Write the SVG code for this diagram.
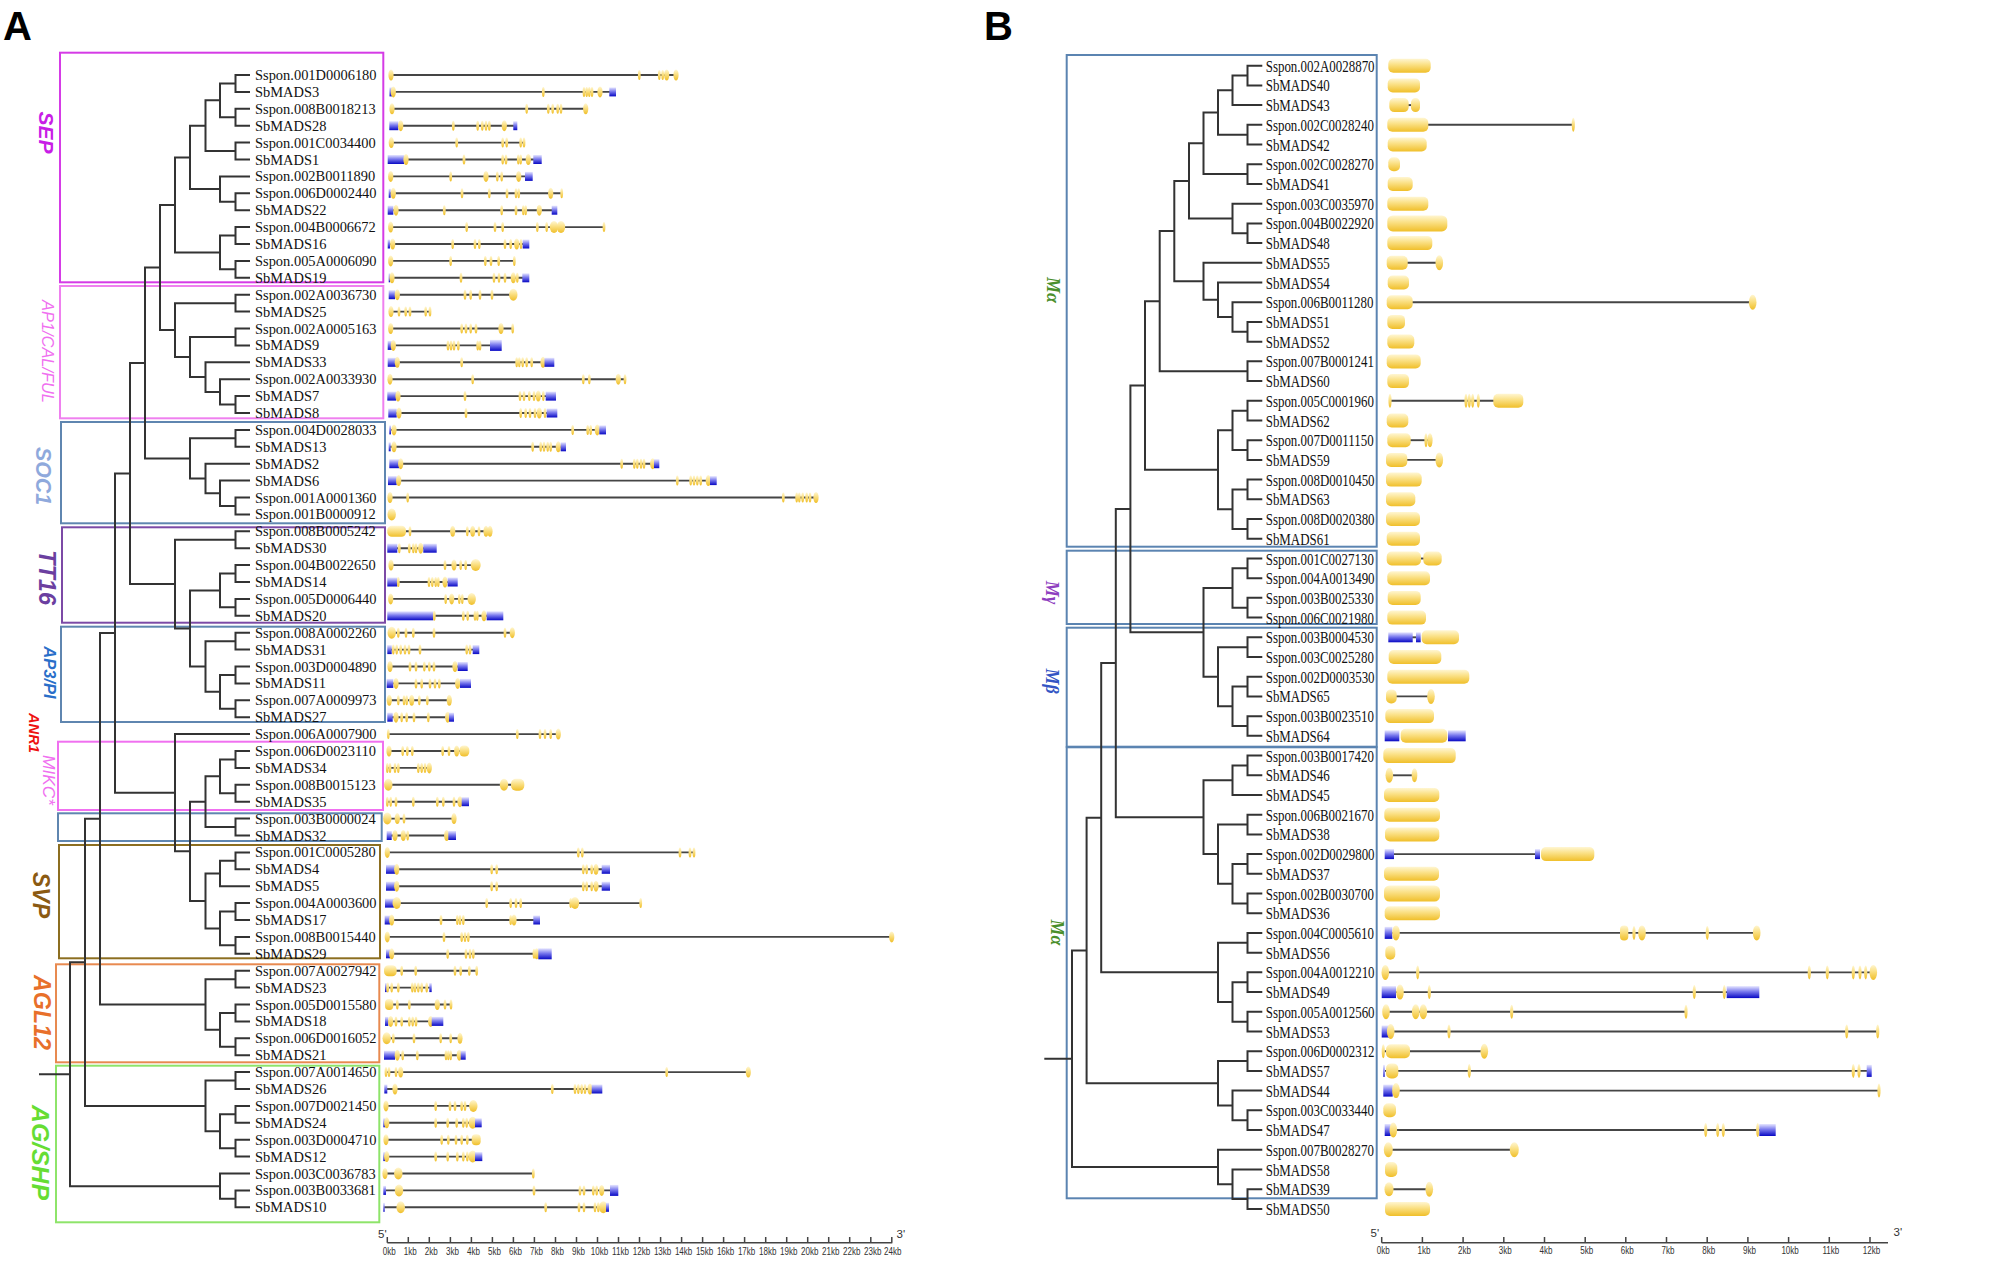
<svg xmlns="http://www.w3.org/2000/svg" xmlns:xlink="http://www.w3.org/1999/xlink" width="1991" height="1262" viewBox="0 0 1991 1262">
<style>
.t{fill:none;stroke:#333;stroke-width:2}
.la{font-family:"Liberation Serif","Times New Roman",serif;font-size:15px;fill:#111}
.lb{font-family:"Liberation Serif","Times New Roman",serif;font-size:17.5px;fill:#111}
.i{stroke:#454545;stroke-width:1.9}
.u{fill:url(#gb)}
.x{fill:url(#gy)}
.bx{fill:none;stroke-width:2}
.gl{font-family:"Liberation Sans",Arial,sans-serif;font-weight:bold;font-style:italic;text-anchor:middle}
.gm{font-family:"Liberation Serif","Times New Roman",serif;font-weight:bold;font-style:italic;font-size:18px;text-anchor:middle}
.ax{stroke:#444;stroke-width:1.5;fill:none}
.tk{font-family:"Liberation Sans",Arial,sans-serif;font-size:11.5px;fill:#333;text-anchor:middle}
.pl{font-family:"Liberation Sans",Arial,sans-serif;font-size:40px;font-weight:bold;fill:#000}
</style>
<defs>
<linearGradient id="gy" x1="0" y1="0" x2="0" y2="1"><stop offset="0" stop-color="#fff6d2"/><stop offset="0.4" stop-color="#fbe28a"/><stop offset="1" stop-color="#f0bf2a"/></linearGradient>
<linearGradient id="gb" x1="0" y1="0" x2="0" y2="1"><stop offset="0" stop-color="#e6e6ff"/><stop offset="0.45" stop-color="#7a7aee"/><stop offset="1" stop-color="#0808c4"/></linearGradient>
<ellipse id="s" rx="1.4" ry="5" fill="url(#gy)"/>
<ellipse id="m" rx="2.6" ry="5.5" fill="url(#gy)"/>
<ellipse id="L" rx="4.2" ry="6" fill="url(#gy)"/>
<ellipse id="p" rx="1.6" ry="7" fill="url(#gy)"/>
<ellipse id="q" rx="3.8" ry="7.5" fill="url(#gy)"/>
</defs>
<rect width="1991" height="1262" fill="#fff"/>
<text class="pl" x="3" y="40">A</text>
<text class="pl" x="984" y="40">B</text>

<g id="clades">
<rect class="bx" x="60" y="52.7" width="323.3" height="229.6" stroke="#d53be6"/>
<rect class="bx" x="60" y="286" width="323.3" height="132.3" stroke="#ef80ef"/>
<rect class="bx" x="61" y="422" width="324" height="101.3" stroke="#5f86b0"/>
<rect class="bx" x="62" y="527.3" width="323" height="95.4" stroke="#7c4aa6"/>
<rect class="bx" x="61" y="626.7" width="324" height="95.3" stroke="#5f86b0"/>
<rect class="bx" x="58" y="741.7" width="325" height="68.3" stroke="#f070f0"/>
<rect class="bx" x="58" y="813.3" width="323.7" height="27.7" stroke="#5f86b0"/>
<rect class="bx" x="59" y="845" width="321" height="113.3" stroke="#8c6e20"/>
<rect class="bx" x="56" y="964.3" width="323.3" height="98" stroke="#e88a50"/>
<rect class="bx" x="56" y="1065.7" width="323.3" height="156.6" stroke="#8ee46a"/>
<rect class="bx" x="1066.7" y="55" width="310" height="491.7" stroke="#5b84b1"/>
<rect class="bx" x="1066.7" y="550.7" width="310" height="73.3" stroke="#5b84b1"/>
<rect class="bx" x="1066.7" y="627.7" width="310" height="119" stroke="#5b84b1"/>
<rect class="bx" x="1066.7" y="747.3" width="310" height="451" stroke="#5b84b1"/>
<text class="gl" font-size="21" fill="#c81ee6" transform="translate(38.5 132.5) rotate(90)">SEP</text>
<text class="gl" font-size="16.4" fill="#f070f0" transform="translate(42 351.5) rotate(90)" style="font-weight:normal">AP1/CAL/FUL</text>
<text class="gl" font-size="21.3" fill="#8fa9dc" transform="translate(36 476) rotate(90)">SOC1</text>
<text class="gl" font-size="23.6" fill="#6b3fa0" transform="translate(39 577.5) rotate(90)">TT16</text>
<text class="gl" font-size="16.5" fill="#2a6fc9" transform="translate(43.5 672.5) rotate(90)">AP3/PI</text>
<text class="gl" font-size="14.7" fill="#ee1111" transform="translate(28.5 733) rotate(90)">ANR1</text>
<text class="gl" font-size="17.3" fill="#f070f0" transform="translate(43 780) rotate(90)" style="font-weight:normal">MIKC*</text>
<text class="gl" font-size="23" fill="#8b5a12" transform="translate(33 895) rotate(90)">SVP</text>
<text class="gl" font-size="23.3" fill="#e8702a" transform="translate(33.5 1012.5) rotate(90)">AGL12</text>
<text class="gl" font-size="24.8" fill="#66dd33" transform="translate(32 1152.5) rotate(90)">AG/SHP</text>
<text class="gm" fill="#4a8f2b" transform="translate(1047 290) rotate(90)">Mα</text>
<text class="gm" fill="#8e3fc0" transform="translate(1046 592.5) rotate(90)">Mγ</text>
<text class="gm" fill="#3355c4" transform="translate(1046 681) rotate(90)">Mβ</text>
<text class="gm" fill="#4a8f2b" transform="translate(1050.5 932.5) rotate(90)">Mα</text>
</g>

<g id="connectors" class="t">
<path d="M250 75H235.5V91.9H250M250 108.8H235.5V125.7H250M235.5 83.45H220V117.25H235.5M250 142.6H235.5V159.5H250M220 100.35H205.5V151.05H235.5M250 193.3H235.5V210.2H250M250 176.4H220V201.75H235.5M205.5 125.7H190V189.08H220M250 227.1H235.5V244H250M250 260.9H235.5V277.8H250M235.5 235.55H220V269.35H235.5M190 157.39H175V252.45H220"/>
<path d="M250 294.7H235.5V311.6H250M250 328.5H235.5V345.4H250M250 396.1H235.5V413H250M250 379.2H220V404.55H235.5M250 362.3H205.5V391.88H220M235.5 336.95H190V377.09H205.5M235.5 303.15H175V357.02H190M175 204.92H160V330.09H175"/>
<path d="M250 429.9H235.5V446.8H250M250 497.5H235.5V514.4H250M250 480.6H220V505.95H235.5M250 463.7H205.5V493.28H220M235.5 438.35H190V478.49H205.5M160 267.5H145V458.42H190"/>
<path d="M250 531.3H235.5V548.2H250M250 565.1H235.5V582H250M250 598.9H235.5V615.8H250M235.5 573.55H220V607.35H235.5M250 632.7H235.5V649.6H250M250 666.5H235.5V683.4H250M250 700.3H235.5V717.2H250M235.5 674.95H220V708.75H235.5M235.5 641.15H205.5V691.85H220M220 590.45H190V666.5H205.5M235.5 539.75H175V628.48H190M145 362.96H130V584.11H175"/>
<path d="M250 751H235.5V767.9H250M250 784.8H235.5V801.7H250M235.5 759.45H220V793.25H235.5M250 818.6H235.5V835.5H250M220 776.35H205.5V827.05H235.5M250 852.4H235.5V869.3H250M235.5 860.85H220V886.2H250M250 903.1H235.5V920H250M250 936.9H235.5V953.8H250M235.5 911.55H220V945.35H235.5M220 873.53H205.5V928.45H220M205.5 801.7H190V900.99H205.5M250 734.1H175V851.35H190M130 473.5H115V792.73H175"/>
<path d="M250 970.7H235.5V987.6H250M250 1004.5H235.5V1021.4H250M250 1038.3H235.5V1055.2H250M235.5 1012.95H220V1046.75H235.5M235.5 979.15H205.5V1029.85H220M115 633.1H100V1004.5H205.5M250 1072.1H235.5V1089H250M250 1105.9H235.5V1122.8H250M250 1139.7H235.5V1156.6H250M235.5 1114.35H220V1148.15H235.5M235.5 1080.55H205.5V1131.25H220M100 818.8H85V1105.9H205.5M250 1190.4H235.5V1207.3H250M250 1173.5H220V1198.85H235.5M85 962.35H70V1186.18H220M39 1074.26H70"/>
<path d="M1262.3 65.7H1247.5V85.41H1262.3M1247.5 75.56H1232.5V105.12H1262.3M1262.3 124.83H1247.5V144.54H1262.3M1232.5 90.34H1218V134.69H1247.5M1262.3 164.25H1247.5V183.96H1262.3M1218 112.51H1203.5V174.1H1247.5M1262.3 223.38H1247.5V243.09H1262.3M1262.3 203.67H1232.5V233.24H1247.5M1203.5 143.3H1189V218.45H1232.5M1262.3 321.93H1247.5V341.64H1262.3M1262.3 302.22H1232.5V331.79H1247.5M1262.3 282.51H1218V317H1232.5M1262.3 262.8H1203.5V299.76H1218M1189 180.88H1174.3V281.28H1203.5M1262.3 361.35H1247.5V381.06H1262.3M1174.3 231.08H1159.7V371.2H1247.5"/>
<path d="M1262.3 400.77H1247.5V420.48H1262.3M1262.3 440.19H1247.5V459.9H1262.3M1247.5 410.63H1232.5V450.05H1247.5M1262.3 479.61H1247.5V499.32H1262.3M1262.3 519.03H1247.5V538.74H1262.3M1247.5 489.47H1232.5V528.89H1247.5M1232.5 430.34H1218V509.18H1232.5M1159.7 301.14H1145V469.76H1218"/>
<path d="M1262.3 558.45H1247.5V578.16H1262.3M1262.3 597.87H1247.5V617.58H1262.3M1247.5 568.31H1232.5V607.73H1247.5M1262.3 637.29H1247.5V657H1262.3M1262.3 676.71H1247.5V696.42H1262.3M1262.3 716.13H1247.5V735.84H1262.3M1247.5 686.57H1232.5V725.99H1247.5M1247.5 647.15H1218V706.28H1232.5M1232.5 588.02H1203.5V676.72H1218M1145 385.45H1130.4V632.37H1203.5"/>
<path d="M1262.3 755.55H1247.5V775.26H1262.3M1247.5 765.41H1232.5V794.97H1262.3M1262.3 814.68H1247.5V834.39H1262.3M1262.3 854.1H1247.5V873.81H1262.3M1262.3 893.52H1247.5V913.23H1262.3M1247.5 863.96H1232.5V903.38H1247.5M1247.5 824.54H1218V883.67H1232.5M1232.5 780.19H1203.5V854.1H1218M1130.4 508.91H1115.8V817.15H1203.5"/>
<path d="M1262.3 932.94H1247.5V952.65H1262.3M1262.3 972.36H1247.5V992.07H1262.3M1262.3 1011.78H1247.5V1031.49H1262.3M1247.5 982.22H1232.5V1021.64H1247.5M1247.5 942.8H1218V1001.93H1232.5M1115.8 663.03H1101.2V972.37H1218M1262.3 1051.2H1247.5V1070.91H1262.3M1262.3 1110.33H1247.5V1130.04H1262.3M1262.3 1090.62H1232.5V1120.19H1247.5M1247.5 1061.06H1218V1105.41H1232.5M1101.2 817.7H1086.6V1083.24H1218M1262.3 1189.17H1247.5V1208.88H1262.3M1262.3 1169.46H1232.5V1199.03H1247.5M1262.3 1149.75H1218V1184.25H1232.5M1086.6 950.47H1072V1167H1218M1044.3 1058.74H1072"/>
</g>

<g id="nodesA">
<g id="a1"><text class="la" transform="translate(255 80) scale(.963 1)">Sspon.001D0006180</text><g transform="translate(0 75)"><line class="i" x1="390" x2="676.5"/><use href="#m" x="391"/><use href="#s" x="639.3"/><use href="#s" x="659.3"/><use href="#s" x="662.7"/><use href="#m" x="666.7"/><use href="#m" x="676"/></g></g>
<g id="a2"><text class="la" transform="translate(255 96.9) scale(.963 1)">SbMADS3</text><g transform="translate(0 91.9)"><line class="i" x1="390" x2="616"/><rect class="u" x="389.5" y="-4.5" width="2.5" height="9"/><use href="#m" x="393.3"/><use href="#s" x="543.3"/><use href="#s" x="584"/><use href="#s" x="586.7"/><use href="#s" x="589.3"/><use href="#s" x="592"/><use href="#m" x="600"/><rect class="u" x="609.3" y="-4.5" width="6.7" height="9"/></g></g>
<g id="a3"><text class="la" transform="translate(255 113.8) scale(.963 1)">Sspon.008B0018213</text><g transform="translate(0 108.8)"><line class="i" x1="391" x2="586"/><use href="#m" x="392"/><use href="#s" x="526.7"/><use href="#s" x="548.3"/><use href="#s" x="552.7"/><use href="#s" x="557.7"/><use href="#s" x="561"/><use href="#m" x="585.7"/></g></g>
<g id="a4"><text class="la" transform="translate(255 130.7) scale(.963 1)">SbMADS28</text><g transform="translate(0 125.7)"><line class="i" x1="390" x2="517"/><rect class="u" x="389.3" y="-4.5" width="9" height="9"/><use href="#m" x="400.7"/><use href="#s" x="453.3"/><use href="#s" x="477.7"/><use href="#s" x="482.3"/><use href="#s" x="486"/><use href="#s" x="489.3"/><use href="#m" x="504.3"/><rect class="u" x="513.3" y="-4.5" width="4" height="9"/></g></g>
<g id="a5"><text class="la" transform="translate(255 147.6) scale(.963 1)">Sspon.001C0034400</text><g transform="translate(0 142.6)"><line class="i" x1="391" x2="524"/><use href="#m" x="391.3"/><use href="#s" x="456.7"/><use href="#s" x="502.7"/><use href="#s" x="506.7"/><use href="#s" x="520.7"/><use href="#s" x="524"/></g></g>
<g id="a6"><text class="la" transform="translate(255 164.5) scale(.963 1)">SbMADS1</text><g transform="translate(0 159.5)"><line class="i" x1="390" x2="541"/><rect class="u" x="387.7" y="-4.5" width="16.3" height="9"/><use href="#m" x="406"/><use href="#s" x="464"/><use href="#s" x="502.7"/><use href="#s" x="506"/><use href="#s" x="518.3"/><use href="#s" x="520.7"/><use href="#m" x="528.3"/><rect class="u" x="533.3" y="-4.5" width="8.4" height="9"/></g></g>
<g id="a7"><text class="la" transform="translate(255 181.4) scale(.963 1)">Sspon.002B0011890</text><g transform="translate(0 176.4)"><line class="i" x1="390" x2="532"/><use href="#m" x="390.7"/><use href="#s" x="450.7"/><use href="#m" x="486"/><use href="#s" x="497.3"/><use href="#s" x="501.7"/><use href="#m" x="518.7"/><rect class="u" x="525" y="-4.5" width="7.7" height="9"/></g></g>
<g id="a8"><text class="la" transform="translate(255 198.3) scale(.963 1)">Sspon.006D0002440</text><g transform="translate(0 193.3)"><line class="i" x1="390" x2="561.7"/><rect class="u" x="388.7" y="-4.5" width="2" height="9"/><use href="#m" x="393.3"/><use href="#s" x="462"/><use href="#s" x="489.3"/><use href="#s" x="507"/><use href="#s" x="516"/><use href="#s" x="518.7"/><use href="#m" x="550.7"/><use href="#s" x="561.7"/></g></g>
<g id="a9"><text class="la" transform="translate(255 215.2) scale(.963 1)">SbMADS22</text><g transform="translate(0 210.2)"><line class="i" x1="390" x2="557"/><rect class="u" x="387.7" y="-4.5" width="5.6" height="9"/><use href="#m" x="396"/><use href="#s" x="444.3"/><use href="#s" x="501.7"/><use href="#s" x="516"/><use href="#s" x="523.3"/><use href="#s" x="525.7"/><use href="#m" x="539.3"/><rect class="u" x="551.7" y="-4.5" width="5.6" height="9"/></g></g>
<g id="a10"><text class="la" transform="translate(255 232.1) scale(.963 1)">Sspon.004B0006672</text><g transform="translate(0 227.1)"><line class="i" x1="390" x2="604"/><use href="#m" x="390.7"/><use href="#s" x="466.7"/><use href="#s" x="495"/><use href="#s" x="502.7"/><use href="#s" x="537.3"/><use href="#s" x="546.7"/><use href="#L" x="554"/><use href="#L" x="561"/><use href="#s" x="604"/></g></g>
<g id="a11"><text class="la" transform="translate(255 249) scale(.963 1)">SbMADS16</text><g transform="translate(0 244)"><line class="i" x1="390" x2="529"/><rect class="u" x="387.7" y="-4.5" width="2.3" height="9"/><use href="#m" x="392.7"/><use href="#s" x="452.7"/><use href="#s" x="475"/><use href="#s" x="479.3"/><use href="#s" x="505"/><use href="#s" x="510.7"/><use href="#m" x="516.7"/><use href="#s" x="521"/><rect class="u" x="522.7" y="-4.5" width="6.6" height="9"/></g></g>
<g id="a12"><text class="la" transform="translate(255 265.9) scale(.963 1)">Sspon.005A0006090</text><g transform="translate(0 260.9)"><line class="i" x1="390" x2="514.3"/><use href="#m" x="390.7"/><use href="#s" x="450.7"/><use href="#s" x="485.3"/><use href="#s" x="491"/><use href="#s" x="498.7"/><use href="#s" x="514.3"/></g></g>
<g id="a13"><text class="la" transform="translate(255 282.8) scale(.963 1)">SbMADS19</text><g transform="translate(0 277.8)"><line class="i" x1="390" x2="529"/><rect class="u" x="388.7" y="-4.5" width="1.3" height="9"/><use href="#m" x="392"/><use href="#s" x="461"/><use href="#s" x="494"/><use href="#s" x="499"/><use href="#s" x="505"/><use href="#m" x="513.3"/><use href="#s" x="517.3"/><rect class="u" x="522.3" y="-4.5" width="7" height="9"/></g></g>
<g id="a14"><text class="la" transform="translate(255 299.7) scale(.963 1)">Sspon.002A0036730</text><g transform="translate(0 294.7)"><line class="i" x1="390" x2="513"/><rect class="u" x="388.7" y="-4.5" width="6.3" height="9"/><use href="#m" x="397.3"/><use href="#s" x="465"/><use href="#s" x="470.7"/><use href="#s" x="480"/><use href="#s" x="492"/><use href="#L" x="513.3"/></g></g>
<g id="a15"><text class="la" transform="translate(255 316.6) scale(.963 1)">SbMADS25</text><g transform="translate(0 311.6)"><line class="i" x1="391" x2="430"/><use href="#m" x="391"/><use href="#s" x="399"/><use href="#s" x="405.7"/><use href="#s" x="410"/><use href="#s" x="425.7"/><use href="#s" x="430"/></g></g>
<g id="a16"><text class="la" transform="translate(255 333.5) scale(.963 1)">Sspon.002A0005163</text><g transform="translate(0 328.5)"><line class="i" x1="391" x2="512.7"/><use href="#m" x="390.7"/><use href="#s" x="461.7"/><use href="#s" x="466"/><use href="#s" x="470.7"/><use href="#s" x="476"/><use href="#m" x="501"/><use href="#s" x="512.7"/></g></g>
<g id="a17"><text class="la" transform="translate(255 350.4) scale(.963 1)">SbMADS9</text><g transform="translate(0 345.4)"><line class="i" x1="391" x2="501"/><rect class="u" x="387.7" y="-4.5" width="4" height="9"/><use href="#m" x="393.3"/><use href="#s" x="448"/><use href="#s" x="451"/><use href="#s" x="454"/><use href="#s" x="458.3"/><use href="#s" x="477.7"/><use href="#s" x="480"/><rect class="u" x="490" y="-5.5" width="11.7" height="11"/></g></g>
<g id="a18"><text class="la" transform="translate(255 367.3) scale(.963 1)">SbMADS33</text><g transform="translate(0 362.3)"><line class="i" x1="390" x2="554"/><rect class="u" x="387.7" y="-4.5" width="8.3" height="9"/><use href="#m" x="397.3"/><use href="#s" x="461.7"/><use href="#s" x="516.7"/><use href="#s" x="519.3"/><use href="#s" x="522.7"/><use href="#s" x="526.7"/><use href="#s" x="531.7"/><use href="#m" x="543"/><rect class="u" x="544.5" y="-4.5" width="9.8" height="9"/></g></g>
<g id="a19"><text class="la" transform="translate(255 384.2) scale(.963 1)">Sspon.002A0033930</text><g transform="translate(0 379.2)"><line class="i" x1="390" x2="625"/><use href="#m" x="390"/><use href="#s" x="472.7"/><use href="#s" x="583.3"/><use href="#s" x="589.3"/><use href="#m" x="618.3"/><use href="#s" x="625"/></g></g>
<g id="a20"><text class="la" transform="translate(255 401.1) scale(.963 1)">SbMADS7</text><g transform="translate(0 396.1)"><line class="i" x1="390" x2="556"/><rect class="u" x="387.3" y="-4.5" width="8.7" height="9"/><use href="#m" x="398"/><use href="#s" x="465"/><use href="#s" x="520"/><use href="#s" x="524"/><use href="#s" x="529.3"/><use href="#s" x="534"/><use href="#m" x="538.3"/><use href="#s" x="543.3"/><rect class="u" x="545.7" y="-4.5" width="10.3" height="9"/></g></g>
<g id="a21"><text class="la" transform="translate(255 418) scale(.963 1)">SbMADS8</text><g transform="translate(0 413)"><line class="i" x1="390" x2="557"/><rect class="u" x="388.3" y="-4.5" width="8.4" height="9"/><use href="#m" x="399"/><use href="#s" x="466"/><use href="#s" x="520.7"/><use href="#s" x="525.7"/><use href="#s" x="530"/><use href="#s" x="535"/><use href="#m" x="539.3"/><use href="#s" x="545"/><rect class="u" x="546.7" y="-4.5" width="10.6" height="9"/></g></g>
<g id="a22"><text class="la" transform="translate(255 434.9) scale(.963 1)">Sspon.004D0028033</text><g transform="translate(0 429.9)"><line class="i" x1="390" x2="606"/><rect class="u" x="389.3" y="-4.5" width="1.7" height="9"/><use href="#m" x="394"/><use href="#s" x="572.7"/><use href="#s" x="587.7"/><use href="#s" x="590.7"/><use href="#m" x="597.3"/><rect class="u" x="599.3" y="-4.5" width="6.7" height="9"/></g></g>
<g id="a23"><text class="la" transform="translate(255 451.8) scale(.963 1)">SbMADS13</text><g transform="translate(0 446.8)"><line class="i" x1="390" x2="566"/><rect class="u" x="388.7" y="-4.5" width="2" height="9"/><use href="#m" x="394"/><use href="#s" x="532.7"/><use href="#s" x="540.7"/><use href="#s" x="544"/><use href="#s" x="547.7"/><use href="#s" x="550.7"/><use href="#m" x="558.3"/><rect class="u" x="560.7" y="-4.5" width="5.3" height="9"/></g></g>
<g id="a24"><text class="la" transform="translate(255 468.7) scale(.963 1)">SbMADS2</text><g transform="translate(0 463.7)"><line class="i" x1="390" x2="659"/><rect class="u" x="389.3" y="-4.5" width="10" height="9"/><use href="#m" x="400.7"/><use href="#s" x="621.7"/><use href="#s" x="634.3"/><use href="#s" x="637.3"/><use href="#s" x="641"/><use href="#s" x="644"/><use href="#m" x="652.7"/><rect class="u" x="654" y="-4.5" width="5.3" height="9"/></g></g>
<g id="a25"><text class="la" transform="translate(255 485.6) scale(.963 1)">SbMADS6</text><g transform="translate(0 480.6)"><line class="i" x1="390" x2="716"/><rect class="u" x="388" y="-4.5" width="8.7" height="9"/><use href="#m" x="398.7"/><use href="#s" x="677.3"/><use href="#s" x="690.7"/><use href="#s" x="694"/><use href="#s" x="697.3"/><use href="#s" x="700.7"/><use href="#m" x="708.3"/><rect class="u" x="710" y="-4.5" width="6.7" height="9"/></g></g>
<g id="a26"><text class="la" transform="translate(255 502.5) scale(.963 1)">Sspon.001A0001360</text><g transform="translate(0 497.5)"><line class="i" x1="390" x2="816"/><use href="#m" x="390"/><use href="#s" x="407.7"/><use href="#s" x="783.3"/><use href="#s" x="796.7"/><use href="#s" x="799.3"/><use href="#s" x="802.7"/><use href="#s" x="806.7"/><use href="#s" x="810"/><use href="#m" x="816"/></g></g>
<g id="a27"><text class="la" transform="translate(255 519.4) scale(.963 1)">Sspon.001B0000912</text><g transform="translate(0 514.4)"><use href="#L" x="391.7"/></g></g>
<g id="a28"><text class="la" transform="translate(255 536.3) scale(.963 1)">Sspon.008B0005242</text><g transform="translate(0 531.3)"><line class="i" x1="395" x2="490"/><rect class="x" x="387.3" y="-5.5" width="18.7" height="11" rx="4.5"/><use href="#s" x="410"/><use href="#m" x="452.7"/><use href="#s" x="467.3"/><use href="#m" x="472.7"/><use href="#s" x="479"/><use href="#m" x="486"/><use href="#m" x="490"/></g></g>
<g id="a29"><text class="la" transform="translate(255 553.2) scale(.963 1)">SbMADS30</text><g transform="translate(0 548.2)"><line class="i" x1="390" x2="436"/><rect class="u" x="387.3" y="-4.5" width="10" height="9"/><use href="#s" x="399.3"/><use href="#s" x="409.3"/><use href="#s" x="413.3"/><use href="#s" x="416"/><use href="#m" x="420.7"/><rect class="u" x="423.3" y="-4.5" width="13.4" height="9"/></g></g>
<g id="a30"><text class="la" transform="translate(255 570.1) scale(.963 1)">Sspon.004B0022650</text><g transform="translate(0 565.1)"><line class="i" x1="391" x2="475"/><use href="#m" x="391"/><use href="#s" x="445"/><use href="#m" x="454"/><use href="#s" x="460.7"/><use href="#s" x="465.7"/><ellipse cx="475.7" rx="5" ry="6" fill="url(#gy)"/></g></g>
<g id="a31"><text class="la" transform="translate(255 587) scale(.963 1)">SbMADS14</text><g transform="translate(0 582)"><line class="i" x1="390" x2="457"/><rect class="u" x="387.3" y="-4.5" width="10" height="9"/><use href="#s" x="398.3"/><use href="#s" x="429"/><use href="#s" x="432.3"/><use href="#s" x="435.7"/><use href="#s" x="438.3"/><use href="#m" x="445"/><rect class="u" x="447.7" y="-4.5" width="10" height="9"/></g></g>
<g id="a32"><text class="la" transform="translate(255 603.9) scale(.963 1)">Sspon.005D0006440</text><g transform="translate(0 598.9)"><line class="i" x1="391" x2="471"/><use href="#m" x="390.7"/><use href="#s" x="445.7"/><use href="#m" x="451.7"/><use href="#s" x="459.3"/><use href="#s" x="462.3"/><use href="#L" x="471.7"/></g></g>
<g id="a33"><text class="la" transform="translate(255 620.8) scale(.963 1)">SbMADS20</text><g transform="translate(0 615.8)"><line class="i" x1="390" x2="503"/><rect class="u" x="387.3" y="-4.5" width="46" height="9"/><use href="#s" x="434.3"/><use href="#s" x="463.3"/><use href="#s" x="467.7"/><use href="#s" x="475"/><use href="#s" x="477.3"/><use href="#m" x="484"/><rect class="u" x="486.7" y="-4.5" width="16.6" height="9"/></g></g>
<g id="a34"><text class="la" transform="translate(255 637.7) scale(.963 1)">Sspon.008A0002260</text><g transform="translate(0 632.7)"><line class="i" x1="391" x2="512"/><use href="#L" x="391.7"/><use href="#s" x="398.3"/><use href="#s" x="406"/><use href="#s" x="413.3"/><use href="#s" x="434"/><use href="#s" x="505"/><use href="#m" x="512.3"/></g></g>
<g id="a35"><text class="la" transform="translate(255 654.6) scale(.963 1)">SbMADS31</text><g transform="translate(0 649.6)"><line class="i" x1="390" x2="479"/><rect class="u" x="387.3" y="-4.5" width="4.4" height="9"/><use href="#s" x="393.3"/><use href="#s" x="396.7"/><use href="#s" x="400.7"/><use href="#s" x="405"/><use href="#s" x="409"/><use href="#s" x="420"/><use href="#s" x="466.7"/><use href="#s" x="470"/><rect class="u" x="472.7" y="-4.5" width="6.6" height="9"/></g></g>
<g id="a36"><text class="la" transform="translate(255 671.5) scale(.963 1)">Sspon.003D0004890</text><g transform="translate(0 666.5)"><line class="i" x1="390" x2="467"/><use href="#m" x="390"/><use href="#s" x="410"/><use href="#s" x="416"/><use href="#s" x="424.3"/><use href="#s" x="429.3"/><use href="#s" x="434"/><use href="#m" x="455"/><rect class="u" x="457.7" y="-4.5" width="10" height="9"/></g></g>
<g id="a37"><text class="la" transform="translate(255 688.4) scale(.963 1)">SbMADS11</text><g transform="translate(0 683.4)"><line class="i" x1="390" x2="471"/><rect class="u" x="386.7" y="-4.5" width="6.6" height="9"/><use href="#m" x="396"/><use href="#s" x="416"/><use href="#s" x="421.7"/><use href="#s" x="430"/><use href="#s" x="435"/><use href="#s" x="439.3"/><use href="#m" x="457.7"/><rect class="u" x="460" y="-4.5" width="11" height="9"/></g></g>
<g id="a38"><text class="la" transform="translate(255 705.3) scale(.963 1)">Sspon.007A0009973</text><g transform="translate(0 700.3)"><line class="i" x1="390" x2="449"/><use href="#m" x="389.3"/><use href="#s" x="398.3"/><use href="#s" x="404"/><use href="#s" x="406.7"/><use href="#m" x="411.7"/><use href="#s" x="419.3"/><use href="#s" x="427.3"/><use href="#m" x="449.3"/></g></g>
<g id="a39"><text class="la" transform="translate(255 722.2) scale(.963 1)">SbMADS27</text><g transform="translate(0 717.2)"><line class="i" x1="390" x2="454"/><rect class="u" x="387.3" y="-4.5" width="5.4" height="9"/><use href="#m" x="396"/><use href="#s" x="401.7"/><use href="#s" x="406.7"/><use href="#s" x="414"/><use href="#s" x="428.3"/><use href="#m" x="447.7"/><rect class="u" x="449" y="-4.5" width="5" height="9"/></g></g>
<g id="a40"><text class="la" transform="translate(255 739.1) scale(.963 1)">Sspon.006A0007900</text><g transform="translate(0 734.1)"><line class="i" x1="388" x2="558"/><use href="#s" x="388.3"/><use href="#s" x="517.3"/><use href="#s" x="540"/><use href="#s" x="545"/><use href="#s" x="550.7"/><use href="#m" x="558.3"/></g></g>
<g id="a41"><text class="la" transform="translate(255 756) scale(.963 1)">Sspon.006D0023110</text><g transform="translate(0 751)"><line class="i" x1="389" x2="465"/><use href="#m" x="389"/><use href="#s" x="402.7"/><use href="#s" x="407.3"/><use href="#s" x="412.3"/><use href="#s" x="442.7"/><use href="#s" x="449"/><use href="#m" x="456.7"/><rect class="x" x="459.3" y="-5.5" width="10" height="11" rx="4.5"/></g></g>
<g id="a42"><text class="la" transform="translate(255 772.9) scale(.963 1)">SbMADS34</text><g transform="translate(0 767.9)"><line class="i" x1="387" x2="429"/><use href="#s" x="387.3"/><use href="#s" x="390"/><use href="#s" x="395"/><use href="#s" x="398.3"/><use href="#s" x="418.3"/><use href="#s" x="421.7"/><use href="#s" x="425"/><use href="#m" x="429.3"/></g></g>
<g id="a43"><text class="la" transform="translate(255 789.8) scale(.963 1)">Sspon.008B0015123</text><g transform="translate(0 784.8)"><line class="i" x1="388" x2="515"/><use href="#L" x="388.3"/><use href="#L" x="504"/><rect class="x" x="511" y="-6" width="13.3" height="12" rx="5"/></g></g>
<g id="a44"><text class="la" transform="translate(255 806.7) scale(.963 1)">SbMADS35</text><g transform="translate(0 801.7)"><line class="i" x1="387" x2="469"/><use href="#s" x="387.3"/><use href="#s" x="390.7"/><use href="#s" x="396"/><use href="#s" x="413.3"/><use href="#s" x="437.3"/><use href="#s" x="443.3"/><use href="#s" x="454"/><use href="#m" x="460"/><rect class="u" x="461.7" y="-4.5" width="7.3" height="9"/></g></g>
<g id="a45"><text class="la" transform="translate(255 823.6) scale(.963 1)">Sspon.003B0000024</text><g transform="translate(0 818.6)"><line class="i" x1="387" x2="454"/><use href="#L" x="387.3"/><use href="#m" x="397.3"/><use href="#s" x="404"/><use href="#m" x="454"/></g></g>
<g id="a46"><text class="la" transform="translate(255 840.5) scale(.963 1)">SbMADS32</text><g transform="translate(0 835.5)"><line class="i" x1="387" x2="456"/><rect class="u" x="386.7" y="-4.5" width="5" height="9"/><use href="#m" x="395"/><use href="#m" x="403.3"/><use href="#s" x="407.7"/><use href="#m" x="446.7"/><rect class="u" x="448.3" y="-4.5" width="7.7" height="9"/></g></g>
<g id="a47"><text class="la" transform="translate(255 857.4) scale(.963 1)">Sspon.001C0005280</text><g transform="translate(0 852.4)"><line class="i" x1="387" x2="694"/><use href="#m" x="387.3"/><use href="#s" x="578.3"/><use href="#s" x="582.3"/><use href="#s" x="680"/><use href="#s" x="690"/><use href="#s" x="694"/></g></g>
<g id="a48"><text class="la" transform="translate(255 874.3) scale(.963 1)">SbMADS4</text><g transform="translate(0 869.3)"><line class="i" x1="390" x2="610"/><rect class="u" x="386" y="-4.5" width="9" height="9"/><use href="#m" x="396.7"/><use href="#s" x="491.7"/><use href="#s" x="496.7"/><use href="#s" x="583.3"/><use href="#s" x="586.7"/><use href="#s" x="591.7"/><use href="#m" x="596"/><rect class="u" x="601.7" y="-4.5" width="8.3" height="9"/></g></g>
<g id="a49"><text class="la" transform="translate(255 891.2) scale(.963 1)">SbMADS5</text><g transform="translate(0 886.2)"><line class="i" x1="390" x2="610"/><rect class="u" x="386" y="-4.5" width="9" height="9"/><use href="#m" x="396.7"/><use href="#s" x="491.7"/><use href="#s" x="496.7"/><use href="#s" x="583.3"/><use href="#s" x="586.7"/><use href="#s" x="591.7"/><use href="#m" x="596"/><rect class="u" x="601.7" y="-4.5" width="8.3" height="9"/></g></g>
<g id="a50"><text class="la" transform="translate(255 908.1) scale(.963 1)">Sspon.004A0003600</text><g transform="translate(0 903.1)"><line class="i" x1="390" x2="640.7"/><rect class="u" x="385" y="-4.5" width="9" height="9"/><use href="#L" x="396.7"/><use href="#s" x="486.7"/><use href="#s" x="510.7"/><use href="#s" x="516"/><use href="#s" x="520.7"/><use href="#s" x="570.7"/><use href="#L" x="575"/><use href="#s" x="640.7"/></g></g>
<g id="a51"><text class="la" transform="translate(255 925) scale(.963 1)">SbMADS17</text><g transform="translate(0 920)"><line class="i" x1="390" x2="540"/><rect class="u" x="384.7" y="-4.5" width="5.3" height="9"/><use href="#m" x="391.7"/><use href="#s" x="441"/><use href="#s" x="457.3"/><use href="#s" x="460"/><use href="#s" x="463.3"/><use href="#s" x="510.7"/><use href="#m" x="514"/><rect class="u" x="533.3" y="-4.5" width="6.7" height="9"/></g></g>
<g id="a52"><text class="la" transform="translate(255 941.9) scale(.963 1)">Sspon.008B0015440</text><g transform="translate(0 936.9)"><line class="i" x1="387" x2="891.7"/><use href="#m" x="387.3"/><use href="#s" x="444"/><use href="#s" x="461.7"/><use href="#s" x="465"/><use href="#s" x="468.3"/><use href="#m" x="891.7"/></g></g>
<g id="a53"><text class="la" transform="translate(255 958.8) scale(.963 1)">SbMADS29</text><g transform="translate(0 953.8)"><line class="i" x1="388" x2="551"/><rect class="u" x="386" y="-4.5" width="4" height="9"/><use href="#m" x="391.7"/><use href="#s" x="447.7"/><use href="#s" x="466"/><use href="#s" x="470"/><use href="#s" x="473.3"/><use href="#s" x="534"/><use href="#m" x="536.7"/><rect class="u" x="538.3" y="-5.5" width="13.4" height="11"/></g></g>
<g id="a54"><text class="la" transform="translate(255 975.7) scale(.963 1)">Sspon.007A0027942</text><g transform="translate(0 970.7)"><line class="i" x1="390" x2="476.7"/><rect class="x" x="384" y="-5.5" width="12.7" height="11" rx="4.5"/><use href="#s" x="401.7"/><use href="#s" x="415.7"/><use href="#s" x="455"/><use href="#s" x="460.7"/><use href="#s" x="469.3"/><use href="#s" x="476.7"/></g></g>
<g id="a55"><text class="la" transform="translate(255 992.6) scale(.963 1)">SbMADS23</text><g transform="translate(0 987.6)"><line class="i" x1="386" x2="431"/><rect class="u" x="385" y="-4.5" width="1.7" height="9"/><use href="#s" x="387.7"/><use href="#s" x="391.7"/><use href="#s" x="398.3"/><use href="#s" x="412.3"/><use href="#s" x="415"/><use href="#s" x="418.3"/><use href="#s" x="421.7"/><use href="#s" x="426.7"/><rect class="u" x="429.3" y="-4.5" width="2.4" height="9"/></g></g>
<g id="a56"><text class="la" transform="translate(255 1009.5) scale(.963 1)">Sspon.005D0015580</text><g transform="translate(0 1004.5)"><line class="i" x1="390" x2="451"/><rect class="x" x="385" y="-5.5" width="8.3" height="11" rx="4"/><use href="#s" x="397.3"/><use href="#s" x="409.3"/><use href="#m" x="437.3"/><use href="#s" x="445"/><use href="#s" x="451"/></g></g>
<g id="a57"><text class="la" transform="translate(255 1026.4) scale(.963 1)">SbMADS18</text><g transform="translate(0 1021.4)"><line class="i" x1="386" x2="443"/><rect class="u" x="385" y="-4.5" width="3.3" height="9"/><use href="#m" x="390.7"/><use href="#s" x="396"/><use href="#s" x="401.7"/><use href="#s" x="409.3"/><use href="#s" x="412.7"/><use href="#s" x="416"/><use href="#m" x="430.7"/><rect class="u" x="431.7" y="-4.5" width="11.6" height="9"/></g></g>
<g id="a58"><text class="la" transform="translate(255 1043.3) scale(.963 1)">Sspon.006D0016052</text><g transform="translate(0 1038.3)"><line class="i" x1="387" x2="460"/><use href="#L" x="386.7"/><use href="#s" x="393.3"/><use href="#s" x="414"/><use href="#s" x="440.7"/><use href="#s" x="450.7"/><use href="#m" x="460"/></g></g>
<g id="a59"><text class="la" transform="translate(255 1060.2) scale(.963 1)">SbMADS21</text><g transform="translate(0 1055.2)"><line class="i" x1="390" x2="465"/><rect class="u" x="384" y="-4.5" width="11" height="9"/><use href="#m" x="397.3"/><use href="#s" x="402.7"/><use href="#s" x="417.3"/><use href="#s" x="446"/><use href="#s" x="448.3"/><use href="#s" x="450.7"/><use href="#m" x="459.3"/><rect class="u" x="460.7" y="-4.5" width="5" height="9"/></g></g>
<g id="a60"><text class="la" transform="translate(255 1077.1) scale(.963 1)">Sspon.007A0014650</text><g transform="translate(0 1072.1)"><line class="i" x1="386" x2="748.3"/><use href="#s" x="386"/><use href="#s" x="389"/><use href="#s" x="396"/><use href="#m" x="400.7"/><use href="#s" x="666.7"/><use href="#m" x="748.3"/></g></g>
<g id="a61"><text class="la" transform="translate(255 1094) scale(.963 1)">SbMADS26</text><g transform="translate(0 1089)"><line class="i" x1="385" x2="602"/><rect class="u" x="384.3" y="-4.5" width="3" height="9"/><use href="#m" x="395"/><use href="#s" x="552.3"/><use href="#s" x="575"/><use href="#s" x="578.3"/><use href="#s" x="581.7"/><use href="#s" x="585"/><use href="#m" x="590"/><rect class="u" x="591.7" y="-4.5" width="10.6" height="9"/></g></g>
<g id="a62"><text class="la" transform="translate(255 1110.9) scale(.963 1)">Sspon.007D0021450</text><g transform="translate(0 1105.9)"><line class="i" x1="386" x2="473"/><use href="#m" x="386"/><use href="#s" x="435.7"/><use href="#s" x="450"/><use href="#s" x="455"/><use href="#s" x="461.7"/><use href="#s" x="465"/><use href="#L" x="473.3"/></g></g>
<g id="a63"><text class="la" transform="translate(255 1127.8) scale(.963 1)">SbMADS24</text><g transform="translate(0 1122.8)"><line class="i" x1="384" x2="481"/><rect class="u" x="383.3" y="-4.5" width="1.7" height="9"/><use href="#m" x="386.7"/><use href="#s" x="435.7"/><use href="#s" x="447.7"/><use href="#s" x="456.7"/><use href="#s" x="463.3"/><use href="#s" x="466.7"/><use href="#L" x="472.7"/><rect class="u" x="475" y="-4.5" width="6.7" height="9"/></g></g>
<g id="a64"><text class="la" transform="translate(255 1144.7) scale(.963 1)">Sspon.003D0004710</text><g transform="translate(0 1139.7)"><line class="i" x1="386" x2="480"/><use href="#m" x="386"/><use href="#s" x="441.7"/><use href="#s" x="448.3"/><use href="#s" x="456"/><use href="#s" x="461.7"/><use href="#s" x="467.3"/><rect class="x" x="471.7" y="-5.5" width="9" height="11" rx="4"/></g></g>
<g id="a65"><text class="la" transform="translate(255 1161.6) scale(.963 1)">SbMADS12</text><g transform="translate(0 1156.6)"><line class="i" x1="384" x2="482"/><rect class="u" x="383.3" y="-4.5" width="1.7" height="9"/><use href="#m" x="386.7"/><use href="#s" x="435.7"/><use href="#s" x="447.7"/><use href="#s" x="457.3"/><use href="#s" x="463.3"/><use href="#s" x="467.3"/><use href="#L" x="472.7"/><rect class="u" x="475" y="-4.5" width="7.3" height="9"/></g></g>
<g id="a66"><text class="la" transform="translate(255 1178.5) scale(.963 1)">Sspon.003C0036783</text><g transform="translate(0 1173.5)"><line class="i" x1="385" x2="533.3"/><use href="#m" x="385"/><use href="#L" x="398.3"/><use href="#s" x="533.3"/></g></g>
<g id="a67"><text class="la" transform="translate(255 1195.4) scale(.963 1)">Sspon.003B0033681</text><g transform="translate(0 1190.4)"><line class="i" x1="384" x2="618"/><rect class="u" x="383.3" y="-4.5" width="2.7" height="9"/><use href="#L" x="399"/><use href="#s" x="534"/><use href="#s" x="580"/><use href="#s" x="584"/><use href="#s" x="593.3"/><use href="#s" x="596.7"/><use href="#m" x="601.7"/><rect class="u" x="610" y="-5.5" width="8.3" height="11"/></g></g>
<g id="a68"><text class="la" transform="translate(255 1212.3) scale(.963 1)">SbMADS10</text><g transform="translate(0 1207.3)"><line class="i" x1="384" x2="609"/><rect class="u" x="383.3" y="-4.5" width="1.4" height="9"/><use href="#L" x="400.7"/><use href="#s" x="545.7"/><use href="#s" x="579"/><use href="#s" x="584"/><use href="#s" x="595"/><use href="#s" x="598.3"/><use href="#L" x="603.3"/><rect class="u" x="606" y="-4.5" width="3" height="9"/></g></g>
</g>

<g id="nodesB">
<g id="b1"><text class="lb" transform="translate(1265.7 71.7) scale(.74 1)">Sspon.002A0028870</text><g transform="translate(0 65.7)"><rect class="x" x="1388.3" y="-7" width="42.4" height="14" rx="5"/></g></g>
<g id="b2"><text class="lb" transform="translate(1265.7 91.4) scale(.74 1)">SbMADS40</text><g transform="translate(0 85.4)"><rect class="x" x="1387.7" y="-7" width="32.3" height="14" rx="5"/></g></g>
<g id="b3"><text class="lb" transform="translate(1265.7 111.1) scale(.74 1)">SbMADS43</text><g transform="translate(0 105.1)"><line class="i" x1="1405" x2="1412"/><rect class="x" x="1389.3" y="-7" width="19.4" height="14" rx="5"/><rect class="x" x="1411" y="-7" width="9" height="14" rx="4.5"/></g></g>
<g id="b4"><text class="lb" transform="translate(1265.7 130.8) scale(.74 1)">Sspon.002C0028240</text><g transform="translate(0 124.8)"><line class="i" x1="1420" x2="1573.3"/><rect class="x" x="1387.3" y="-7" width="41" height="14" rx="5"/><use href="#p" x="1573.3"/></g></g>
<g id="b5"><text class="lb" transform="translate(1265.7 150.5) scale(.74 1)">SbMADS42</text><g transform="translate(0 144.5)"><rect class="x" x="1387.7" y="-7" width="39" height="14" rx="5"/></g></g>
<g id="b6"><text class="lb" transform="translate(1265.7 170.3) scale(.74 1)">Sspon.002C0028270</text><g transform="translate(0 164.3)"><rect class="x" x="1388.3" y="-7" width="11.7" height="14" rx="5"/></g></g>
<g id="b7"><text class="lb" transform="translate(1265.7 190) scale(.74 1)">SbMADS41</text><g transform="translate(0 184)"><rect class="x" x="1387.7" y="-7" width="25" height="14" rx="5"/></g></g>
<g id="b8"><text class="lb" transform="translate(1265.7 209.7) scale(.74 1)">Sspon.003C0035970</text><g transform="translate(0 203.7)"><rect class="x" x="1387.3" y="-7" width="41" height="14" rx="5"/></g></g>
<g id="b9"><text class="lb" transform="translate(1265.7 229.4) scale(.74 1)">Sspon.004B0022920</text><g transform="translate(0 223.4)"><rect class="x" x="1387.3" y="-8" width="60" height="16" rx="5.5"/></g></g>
<g id="b10"><text class="lb" transform="translate(1265.7 249.1) scale(.74 1)">SbMADS48</text><g transform="translate(0 243.1)"><rect class="x" x="1387.3" y="-7" width="45" height="14" rx="5"/></g></g>
<g id="b11"><text class="lb" transform="translate(1265.7 268.8) scale(.74 1)">SbMADS55</text><g transform="translate(0 262.8)"><line class="i" x1="1400" x2="1439"/><rect class="x" x="1386.7" y="-7" width="21" height="14" rx="5"/><use href="#q" x="1439.3"/></g></g>
<g id="b12"><text class="lb" transform="translate(1265.7 288.5) scale(.74 1)">SbMADS54</text><g transform="translate(0 282.5)"><rect class="x" x="1387.7" y="-7" width="21.3" height="14" rx="5"/></g></g>
<g id="b13"><text class="lb" transform="translate(1265.7 308.2) scale(.74 1)">Sspon.006B0011280</text><g transform="translate(0 302.2)"><line class="i" x1="1405" x2="1752.7"/><rect class="x" x="1386.7" y="-7" width="26" height="14" rx="5"/><use href="#q" x="1752.7"/></g></g>
<g id="b14"><text class="lb" transform="translate(1265.7 327.9) scale(.74 1)">SbMADS51</text><g transform="translate(0 321.9)"><rect class="x" x="1387.3" y="-7" width="17.7" height="14" rx="5"/></g></g>
<g id="b15"><text class="lb" transform="translate(1265.7 347.6) scale(.74 1)">SbMADS52</text><g transform="translate(0 341.6)"><rect class="x" x="1387.3" y="-7" width="27" height="14" rx="5"/></g></g>
<g id="b16"><text class="lb" transform="translate(1265.7 367.4) scale(.74 1)">Sspon.007B0001241</text><g transform="translate(0 361.4)"><rect class="x" x="1386.7" y="-7" width="34" height="14" rx="5"/></g></g>
<g id="b17"><text class="lb" transform="translate(1265.7 387.1) scale(.74 1)">SbMADS60</text><g transform="translate(0 381.1)"><rect class="x" x="1387.3" y="-7" width="21.7" height="14" rx="5"/></g></g>
<g id="b18"><text class="lb" transform="translate(1265.7 406.8) scale(.74 1)">Sspon.005C0001960</text><g transform="translate(0 400.8)"><line class="i" x1="1390" x2="1495"/><use href="#p" x="1390"/><use href="#p" x="1466"/><use href="#p" x="1469.3"/><use href="#p" x="1472.7"/><use href="#p" x="1478.3"/><rect class="x" x="1493.3" y="-7" width="30" height="14" rx="5"/></g></g>
<g id="b19"><text class="lb" transform="translate(1265.7 426.5) scale(.74 1)">SbMADS62</text><g transform="translate(0 420.5)"><rect class="x" x="1386.7" y="-7" width="21.6" height="14" rx="5"/></g></g>
<g id="b20"><text class="lb" transform="translate(1265.7 446.2) scale(.74 1)">Sspon.007D0011150</text><g transform="translate(0 440.2)"><line class="i" x1="1405" x2="1430"/><rect class="x" x="1387.3" y="-7" width="23.4" height="14" rx="5"/><use href="#p" x="1426"/><ellipse cx="1430" rx="2.6" ry="7" fill="url(#gy)"/></g></g>
<g id="b21"><text class="lb" transform="translate(1265.7 465.9) scale(.74 1)">SbMADS59</text><g transform="translate(0 459.9)"><line class="i" x1="1400" x2="1439"/><rect class="x" x="1386" y="-7" width="21.3" height="14" rx="5"/><use href="#q" x="1439.3"/></g></g>
<g id="b22"><text class="lb" transform="translate(1265.7 485.6) scale(.74 1)">Sspon.008D0010450</text><g transform="translate(0 479.6)"><rect class="x" x="1386" y="-7" width="35.7" height="14" rx="5"/></g></g>
<g id="b23"><text class="lb" transform="translate(1265.7 505.3) scale(.74 1)">SbMADS63</text><g transform="translate(0 499.3)"><rect class="x" x="1386" y="-7" width="29.3" height="14" rx="5"/></g></g>
<g id="b24"><text class="lb" transform="translate(1265.7 525) scale(.74 1)">Sspon.008D0020380</text><g transform="translate(0 519)"><rect class="x" x="1386" y="-7" width="34" height="14" rx="5"/></g></g>
<g id="b25"><text class="lb" transform="translate(1265.7 544.7) scale(.74 1)">SbMADS61</text><g transform="translate(0 538.7)"><rect class="x" x="1386.7" y="-7" width="33.3" height="14" rx="5"/></g></g>
<g id="b26"><text class="lb" transform="translate(1265.7 564.5) scale(.74 1)">Sspon.001C0027130</text><g transform="translate(0 558.5)"><line class="i" x1="1418" x2="1426"/><rect class="x" x="1386.7" y="-7" width="34.3" height="14" rx="5"/><rect class="x" x="1423.3" y="-7" width="18.4" height="14" rx="5"/></g></g>
<g id="b27"><text class="lb" transform="translate(1265.7 584.2) scale(.74 1)">Sspon.004A0013490</text><g transform="translate(0 578.2)"><rect class="x" x="1387.3" y="-7" width="42.7" height="14" rx="5"/></g></g>
<g id="b28"><text class="lb" transform="translate(1265.7 603.9) scale(.74 1)">Sspon.003B0025330</text><g transform="translate(0 597.9)"><rect class="x" x="1387.7" y="-7" width="33" height="14" rx="5"/></g></g>
<g id="b29"><text class="lb" transform="translate(1265.7 623.6) scale(.74 1)">Sspon.006C0021980</text><g transform="translate(0 617.6)"><rect class="x" x="1387.3" y="-7" width="38.7" height="14" rx="5"/></g></g>
<g id="b30"><text class="lb" transform="translate(1265.7 643.3) scale(.74 1)">Sspon.003B0004530</text><g transform="translate(0 637.3)"><line class="i" x1="1410" x2="1420"/><rect class="u" x="1388.3" y="-5" width="24.4" height="10"/><rect class="u" x="1416" y="-5" width="4.7" height="10"/><rect class="x" x="1421.7" y="-7" width="37.3" height="14" rx="5"/></g></g>
<g id="b31"><text class="lb" transform="translate(1265.7 663) scale(.74 1)">Sspon.003C0025280</text><g transform="translate(0 657)"><rect class="x" x="1388.7" y="-7" width="52.6" height="14" rx="5"/></g></g>
<g id="b32"><text class="lb" transform="translate(1265.7 682.7) scale(.74 1)">Sspon.002D0003530</text><g transform="translate(0 676.7)"><rect class="x" x="1387.3" y="-7" width="82" height="14" rx="5"/></g></g>
<g id="b33"><text class="lb" transform="translate(1265.7 702.4) scale(.74 1)">SbMADS65</text><g transform="translate(0 696.4)"><line class="i" x1="1392" x2="1431"/><rect class="x" x="1386" y="-7" width="10.7" height="14" rx="5"/><use href="#q" x="1431"/></g></g>
<g id="b34"><text class="lb" transform="translate(1265.7 722.1) scale(.74 1)">Sspon.003B0023510</text><g transform="translate(0 716.1)"><rect class="x" x="1385.3" y="-7" width="48.7" height="14" rx="5"/></g></g>
<g id="b35"><text class="lb" transform="translate(1265.7 741.8) scale(.74 1)">SbMADS64</text><g transform="translate(0 735.8)"><rect class="u" x="1384.7" y="-5.5" width="14.6" height="11"/><rect class="x" x="1400.7" y="-7" width="46.6" height="14" rx="5"/><rect class="u" x="1448" y="-5.5" width="17.7" height="11"/></g></g>
<g id="b36"><text class="lb" transform="translate(1265.7 761.6) scale(.74 1)">Sspon.003B0017420</text><g transform="translate(0 755.6)"><rect class="x" x="1383.3" y="-7.5" width="72.4" height="15" rx="5"/></g></g>
<g id="b37"><text class="lb" transform="translate(1265.7 781.3) scale(.74 1)">SbMADS46</text><g transform="translate(0 775.3)"><line class="i" x1="1389" x2="1414"/><use href="#q" x="1389.3"/><ellipse cx="1414.5" rx="2.8" ry="7" fill="url(#gy)"/></g></g>
<g id="b38"><text class="lb" transform="translate(1265.7 801) scale(.74 1)">SbMADS45</text><g transform="translate(0 795)"><rect class="x" x="1384" y="-7" width="55.3" height="14" rx="5"/></g></g>
<g id="b39"><text class="lb" transform="translate(1265.7 820.7) scale(.74 1)">Sspon.006B0021670</text><g transform="translate(0 814.7)"><rect class="x" x="1384.3" y="-7" width="55.7" height="14" rx="5"/></g></g>
<g id="b40"><text class="lb" transform="translate(1265.7 840.4) scale(.74 1)">SbMADS38</text><g transform="translate(0 834.4)"><rect class="x" x="1385" y="-7" width="54.3" height="14" rx="5"/></g></g>
<g id="b41"><text class="lb" transform="translate(1265.7 860.1) scale(.74 1)">Sspon.002D0029800</text><g transform="translate(0 854.1)"><line class="i" x1="1394" x2="1540"/><rect class="u" x="1384.7" y="-5" width="9.3" height="10"/><rect class="u" x="1535" y="-5" width="5" height="10"/><rect class="x" x="1541" y="-7" width="53.3" height="14" rx="5"/></g></g>
<g id="b42"><text class="lb" transform="translate(1265.7 879.8) scale(.74 1)">SbMADS37</text><g transform="translate(0 873.8)"><rect class="x" x="1384" y="-7" width="55" height="14" rx="5"/></g></g>
<g id="b43"><text class="lb" transform="translate(1265.7 899.5) scale(.74 1)">Sspon.002B0030700</text><g transform="translate(0 893.5)"><rect class="x" x="1384" y="-8" width="56" height="16" rx="5.5"/></g></g>
<g id="b44"><text class="lb" transform="translate(1265.7 919.2) scale(.74 1)">SbMADS36</text><g transform="translate(0 913.2)"><rect class="x" x="1384.7" y="-7" width="55.3" height="14" rx="5"/></g></g>
<g id="b45"><text class="lb" transform="translate(1265.7 938.9) scale(.74 1)">Sspon.004C0005610</text><g transform="translate(0 932.9)"><line class="i" x1="1392" x2="1756.7"/><rect class="u" x="1384.7" y="-6" width="7.6" height="12"/><use href="#q" x="1396"/><rect class="x" x="1620" y="-7.5" width="8.3" height="15" rx="4"/><use href="#p" x="1634"/><use href="#q" x="1642"/><use href="#p" x="1707.3"/><use href="#q" x="1756.7"/></g></g>
<g id="b46"><text class="lb" transform="translate(1265.7 958.7) scale(.74 1)">SbMADS56</text><g transform="translate(0 952.7)"><rect class="x" x="1385.3" y="-7" width="10" height="14" rx="5"/></g></g>
<g id="b47"><text class="lb" transform="translate(1265.7 978.4) scale(.74 1)">Sspon.004A0012210</text><g transform="translate(0 972.4)"><line class="i" x1="1385" x2="1873"/><use href="#q" x="1385.3"/><use href="#p" x="1417.7"/><use href="#p" x="1809.3"/><use href="#p" x="1827.3"/><use href="#p" x="1853.3"/><use href="#p" x="1860"/><use href="#p" x="1865.7"/><use href="#q" x="1873.3"/></g></g>
<g id="b48"><text class="lb" transform="translate(1265.7 998.1) scale(.74 1)">SbMADS49</text><g transform="translate(0 992.1)"><line class="i" x1="1396" x2="1727"/><rect class="u" x="1381.7" y="-6" width="14.3" height="12"/><use href="#q" x="1400"/><use href="#p" x="1429.3"/><use href="#p" x="1694.3"/><use href="#p" x="1724.3"/><rect class="u" x="1726.7" y="-6" width="32.6" height="12"/></g></g>
<g id="b49"><text class="lb" transform="translate(1265.7 1017.8) scale(.74 1)">Sspon.005A0012560</text><g transform="translate(0 1011.8)"><line class="i" x1="1386" x2="1686"/><use href="#q" x="1386"/><use href="#q" x="1415.7"/><use href="#q" x="1423.3"/><use href="#p" x="1511.7"/><use href="#p" x="1686"/></g></g>
<g id="b50"><text class="lb" transform="translate(1265.7 1037.5) scale(.74 1)">SbMADS53</text><g transform="translate(0 1031.5)"><line class="i" x1="1389" x2="1877.7"/><rect class="u" x="1381.7" y="-6" width="7.6" height="12"/><use href="#q" x="1390.7"/><use href="#p" x="1449"/><use href="#p" x="1846.7"/><use href="#p" x="1877.7"/></g></g>
<g id="b51"><text class="lb" transform="translate(1265.7 1057.2) scale(.74 1)">Sspon.006D0002312</text><g transform="translate(0 1051.2)"><line class="i" x1="1383" x2="1484"/><use href="#p" x="1383.3"/><rect class="x" x="1386" y="-7" width="24" height="14" rx="5"/><use href="#q" x="1484.3"/></g></g>
<g id="b52"><text class="lb" transform="translate(1265.7 1076.9) scale(.74 1)">SbMADS57</text><g transform="translate(0 1070.9)"><line class="i" x1="1385" x2="1867"/><rect class="u" x="1383.3" y="-6" width="1.4" height="12"/><rect class="x" x="1386" y="-7.5" width="12.3" height="15" rx="5"/><use href="#p" x="1469.3"/><use href="#p" x="1853.3"/><use href="#p" x="1859"/><rect class="u" x="1866.7" y="-6" width="5" height="12"/></g></g>
<g id="b53"><text class="lb" transform="translate(1265.7 1096.6) scale(.74 1)">SbMADS44</text><g transform="translate(0 1090.6)"><line class="i" x1="1392" x2="1879"/><rect class="u" x="1383.3" y="-6" width="9.4" height="12"/><use href="#q" x="1396"/><use href="#p" x="1879"/></g></g>
<g id="b54"><text class="lb" transform="translate(1265.7 1116.3) scale(.74 1)">Sspon.003C0033440</text><g transform="translate(0 1110.3)"><rect class="x" x="1383.3" y="-7" width="12.7" height="14" rx="5"/></g></g>
<g id="b55"><text class="lb" transform="translate(1265.7 1136) scale(.74 1)">SbMADS47</text><g transform="translate(0 1130)"><line class="i" x1="1390" x2="1760"/><rect class="u" x="1384.7" y="-6" width="6" height="12"/><use href="#q" x="1393.3"/><use href="#p" x="1705.7"/><use href="#p" x="1717.7"/><use href="#p" x="1723.3"/><use href="#p" x="1757.7"/><rect class="u" x="1759.3" y="-6" width="16.4" height="12"/></g></g>
<g id="b56"><text class="lb" transform="translate(1265.7 1155.8) scale(.74 1)">Sspon.007B0028270</text><g transform="translate(0 1149.8)"><line class="i" x1="1388" x2="1514"/><ellipse cx="1388.3" rx="4.5" ry="7.5" fill="url(#gy)"/><ellipse cx="1514.3" rx="4.5" ry="7.5" fill="url(#gy)"/></g></g>
<g id="b57"><text class="lb" transform="translate(1265.7 1175.5) scale(.74 1)">SbMADS58</text><g transform="translate(0 1169.5)"><rect class="x" x="1385" y="-7.5" width="12.3" height="15" rx="5"/></g></g>
<g id="b58"><text class="lb" transform="translate(1265.7 1195.2) scale(.74 1)">SbMADS39</text><g transform="translate(0 1189.2)"><line class="i" x1="1389" x2="1429"/><ellipse cx="1389" rx="4.5" ry="7" fill="url(#gy)"/><use href="#q" x="1429.3"/></g></g>
<g id="b59"><text class="lb" transform="translate(1265.7 1214.9) scale(.74 1)">SbMADS50</text><g transform="translate(0 1208.9)"><rect class="x" x="1385" y="-7" width="45" height="14" rx="5"/></g></g>
</g>

<g id="scaleA">
<path class="ax" d="M387.3 1242.7H892.3M387.3 1237V1242.7M408.3 1237V1242.7M429.3 1237V1242.7M450.4 1237V1242.7M471.4 1237V1242.7M492.4 1237V1242.7M513.4 1237V1242.7M534.4 1237V1242.7M555.5 1237V1242.7M576.5 1237V1242.7M597.5 1237V1242.7M618.5 1237V1242.7M639.5 1237V1242.7M660.6 1237V1242.7M681.6 1237V1242.7M702.6 1237V1242.7M723.6 1237V1242.7M744.6 1237V1242.7M765.7 1237V1242.7M786.7 1237V1242.7M807.7 1237V1242.7M828.7 1237V1242.7M849.7 1237V1242.7M870.8 1237V1242.7M891.8 1237V1242.7"/>
<text class="tk" x="378" y="1238" style="text-anchor:start">5'</text>
<text class="tk" x="896.5" y="1238" style="text-anchor:start">3'</text>
<text class="tk" transform="translate(389.3 1255) scale(.7 1)">0kb</text>
<text class="tk" transform="translate(410.3 1255) scale(.7 1)">1kb</text>
<text class="tk" transform="translate(431.3 1255) scale(.7 1)">2kb</text>
<text class="tk" transform="translate(452.4 1255) scale(.7 1)">3kb</text>
<text class="tk" transform="translate(473.4 1255) scale(.7 1)">4kb</text>
<text class="tk" transform="translate(494.4 1255) scale(.7 1)">5kb</text>
<text class="tk" transform="translate(515.4 1255) scale(.7 1)">6kb</text>
<text class="tk" transform="translate(536.4 1255) scale(.7 1)">7kb</text>
<text class="tk" transform="translate(557.5 1255) scale(.7 1)">8kb</text>
<text class="tk" transform="translate(578.5 1255) scale(.7 1)">9kb</text>
<text class="tk" transform="translate(599.5 1255) scale(.7 1)">10kb</text>
<text class="tk" transform="translate(620.5 1255) scale(.7 1)">11kb</text>
<text class="tk" transform="translate(641.5 1255) scale(.7 1)">12kb</text>
<text class="tk" transform="translate(662.6 1255) scale(.7 1)">13kb</text>
<text class="tk" transform="translate(683.6 1255) scale(.7 1)">14kb</text>
<text class="tk" transform="translate(704.6 1255) scale(.7 1)">15kb</text>
<text class="tk" transform="translate(725.6 1255) scale(.7 1)">16kb</text>
<text class="tk" transform="translate(746.6 1255) scale(.7 1)">17kb</text>
<text class="tk" transform="translate(767.7 1255) scale(.7 1)">18kb</text>
<text class="tk" transform="translate(788.7 1255) scale(.7 1)">19kb</text>
<text class="tk" transform="translate(809.7 1255) scale(.7 1)">20kb</text>
<text class="tk" transform="translate(830.7 1255) scale(.7 1)">21kb</text>
<text class="tk" transform="translate(851.7 1255) scale(.7 1)">22kb</text>
<text class="tk" transform="translate(872.8 1255) scale(.7 1)">23kb</text>
<text class="tk" transform="translate(892.8 1255) scale(.7 1)">24kb</text>
</g>
<g id="scaleB">
<path class="ax" d="M1381.7 1242.7H1888M1381.7 1237V1242.7M1422.4 1237V1242.7M1463.1 1237V1242.7M1503.8 1237V1242.7M1544.5 1237V1242.7M1585.2 1237V1242.7M1625.8 1237V1242.7M1666.5 1237V1242.7M1707.2 1237V1242.7M1747.9 1237V1242.7M1788.6 1237V1242.7M1829.3 1237V1242.7M1870 1237V1242.7"/>
<text class="tk" x="1370.5" y="1237" style="text-anchor:start">5'</text>
<text class="tk" x="1893.5" y="1236" style="text-anchor:start">3'</text>
<text class="tk" transform="translate(1383.2 1254) scale(.7 1)">0kb</text>
<text class="tk" transform="translate(1423.9 1254) scale(.7 1)">1kb</text>
<text class="tk" transform="translate(1464.6 1254) scale(.7 1)">2kb</text>
<text class="tk" transform="translate(1505.3 1254) scale(.7 1)">3kb</text>
<text class="tk" transform="translate(1546 1254) scale(.7 1)">4kb</text>
<text class="tk" transform="translate(1586.7 1254) scale(.7 1)">5kb</text>
<text class="tk" transform="translate(1627.3 1254) scale(.7 1)">6kb</text>
<text class="tk" transform="translate(1668 1254) scale(.7 1)">7kb</text>
<text class="tk" transform="translate(1708.7 1254) scale(.7 1)">8kb</text>
<text class="tk" transform="translate(1749.4 1254) scale(.7 1)">9kb</text>
<text class="tk" transform="translate(1790.1 1254) scale(.7 1)">10kb</text>
<text class="tk" transform="translate(1830.8 1254) scale(.7 1)">11kb</text>
<text class="tk" transform="translate(1871.5 1254) scale(.7 1)">12kb</text>
</g>
</svg>
